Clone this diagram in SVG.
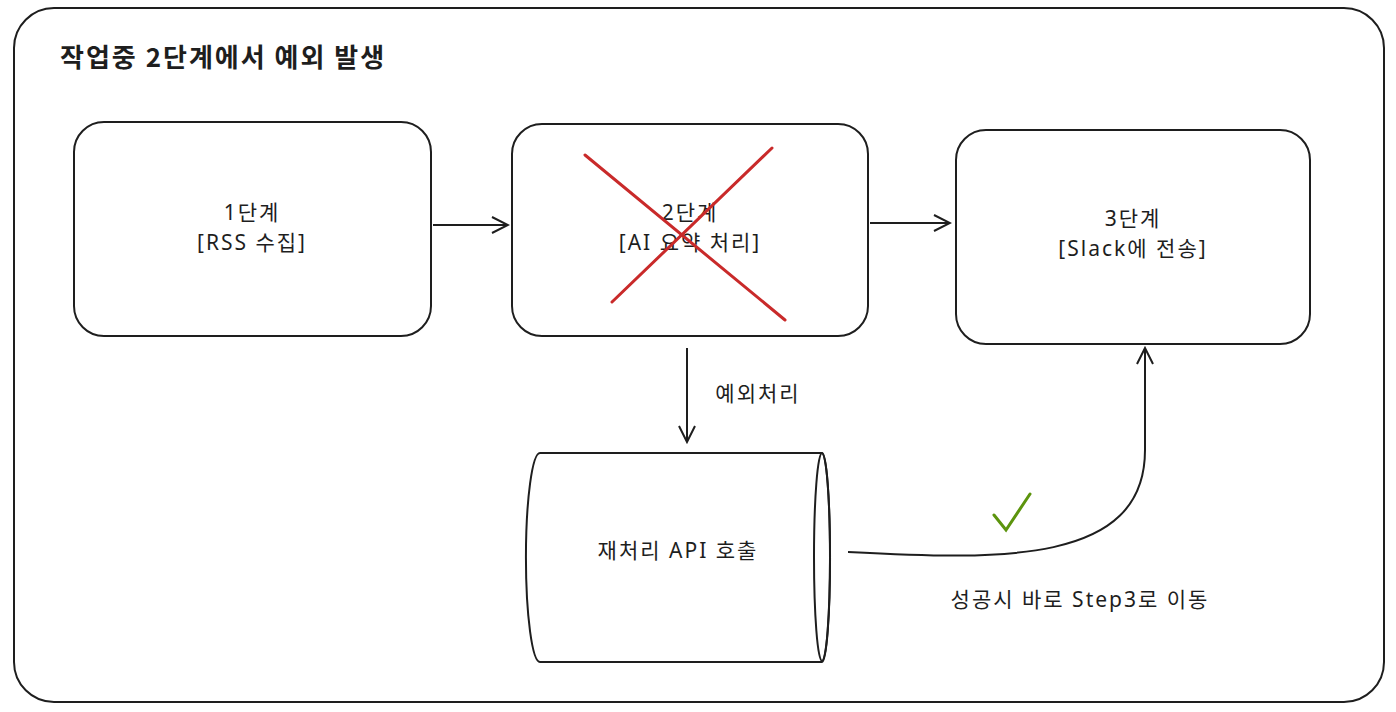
<svg xmlns="http://www.w3.org/2000/svg" width="1396" height="712" viewBox="0 0 1396 712">
<defs>
<style>
.b{fill:#fff;stroke:#1e1e1e;stroke-width:2}
.t{font-family:"Noto Sans","Noto Sans CJK KR",sans-serif;font-size:21px;letter-spacing:2px;fill:#1e1e1e;text-anchor:middle}
.c{fill:none;stroke:#1e1e1e;stroke-width:2}
</style>
<marker id="a" markerWidth="20" markerHeight="20" refX="18" refY="10" orient="auto" markerUnits="userSpaceOnUse"><path d="M2,2 L18,10 L2,18" fill="none" stroke="#1e1e1e" stroke-width="2"/></marker>
</defs>
<rect x="0" y="0" width="1396" height="712" fill="#fff"/>
<g id="frame"><rect class="b" x="14" y="8" width="1370" height="694" rx="40"/>
<text x="60" y="67" font-family="Noto Sans CJK KR,sans-serif" font-size="26" font-weight="600" letter-spacing="2" fill="#1e1e1e">작업중 2단계에서 예외 발생</text></g>
<g id="step1"><rect class="b" x="74" y="122" width="357" height="214" rx="30"/>
<text class="t" x="252" y="220">1단계</text><text class="t" x="252" y="250">[RSS 수집]</text></g>
<g id="step2"><rect class="b" x="512" y="124" width="356" height="212" rx="30"/>
<text class="t" x="690" y="220">2단계</text><text class="t" x="690" y="250">[AI 요약 처리]</text>
<g stroke="#c92a2a" stroke-width="3" stroke-linecap="round"><line x1="585" y1="155" x2="785" y2="320"/><line x1="612" y1="302" x2="772" y2="148"/></g></g>
<g id="step3"><rect class="b" x="956" y="130" width="354" height="214" rx="30"/>
<text class="t" x="1133" y="226">3단계</text><text class="t" x="1133" y="256">[Slack에 전송]</text></g>
<g id="retry"><path class="b" d="M540,453 L822,453 A8,104 0 0 1 822,662 L540,662 A14,104 0 0 1 540,453 Z"/>
<ellipse cx="822" cy="557" rx="8" ry="104" class="c"/>
<text class="t" x="678" y="558">재처리 API 호출</text></g>
<g id="connectors">
<line class="c" x1="433" y1="225" x2="508" y2="225" marker-end="url(#a)"/>
<line class="c" x1="870" y1="223" x2="950" y2="223" marker-end="url(#a)"/>
<line class="c" x1="687" y1="348" x2="687" y2="442" marker-end="url(#a)"/>
<path class="c" d="M848,552 C1000,560 1145,565 1145,450 L1145,348" marker-end="url(#a)"/>
<text class="t" x="758" y="401">예외처리</text>
<text class="t" x="1080" y="607">성공시 바로 Step3로 이동</text>
<path d="M994,515 L1006,530 L1030,494" fill="none" stroke="#5c940d" stroke-width="3" stroke-linecap="round"/>
</g>
</svg>
